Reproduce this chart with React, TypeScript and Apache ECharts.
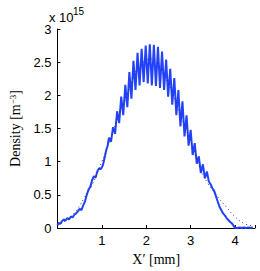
import React, { useEffect, useRef } from "react";
import * as echarts from "echarts";

// Measured density (blue), units of 1e15 m^-3
const measuredX = [
  0.0, 0.03, 0.06, 0.1, 0.14, 0.18, 0.22, 0.26, 0.3, 0.34, 0.38, 0.42, 0.46, 0.5, 0.54, 0.58, 0.62, 0.66, 0.7, 0.74,
  0.78, 0.82, 0.86, 0.9, 0.94, 0.98, 1.02, 1.06, 1.1, 1.13,
  1.16, 1.206, 1.252, 1.298, 1.344, 1.39, 1.436, 1.482, 1.528, 1.574, 1.62, 1.666, 1.712, 1.758, 1.804, 1.85,
  1.896, 1.942, 1.988, 2.034, 2.08, 2.126, 2.172, 2.218, 2.264, 2.31, 2.356, 2.402, 2.448, 2.494, 2.54, 2.586,
  2.632, 2.678, 2.724, 2.77, 2.816, 2.862, 2.908, 2.954, 3.0, 3.046, 3.092, 3.138, 3.184, 3.23, 3.276, 3.322, 3.368,
  3.41, 3.45, 3.49, 3.53, 3.57, 3.61, 3.65, 3.69, 3.73, 3.77, 3.81, 3.85, 3.89, 3.93, 3.97, 4.01, 4.05, 4.1, 4.15,
  4.2, 4.25, 4.3, 4.35, 4.4,
];
const measuredY = [
  0.04, 0.08, 0.06, 0.1, 0.13, 0.11, 0.15, 0.13, 0.17, 0.16, 0.2, 0.22, 0.25, 0.29, 0.27, 0.34, 0.4, 0.5, 0.58, 0.62,
  0.72, 0.78, 0.76, 0.86, 0.9, 0.89, 0.94, 1.05, 1.18, 1.24,
  1.36, 1.3, 1.52, 1.42, 1.76, 1.58, 1.98, 1.7, 2.16, 1.82, 2.35, 1.95, 2.52, 2.08, 2.64, 2.15,
  2.7, 2.2, 2.75, 2.18, 2.77, 2.15, 2.76, 2.14, 2.73, 2.11, 2.66, 2.08, 2.54, 1.98, 2.4, 1.86,
  2.26, 1.7, 2.08, 1.53, 1.91, 1.38, 1.7, 1.24, 1.48, 1.1, 1.28, 0.97, 1.08, 0.83, 0.96, 0.75, 0.85,
  0.7, 0.66, 0.6, 0.56, 0.48, 0.4, 0.32, 0.27, 0.22, 0.19, 0.15, 0.12, 0.09, 0.07, 0.03, 0.0, 0.0, 0.01, 0.0,
  0.01, 0.0, 0.01, 0.0, 0.01,
];

// Fitted profile (dotted)
const fitX = [0.0, 0.2, 0.4, 0.6, 0.8, 1.0, 1.2, 1.4, 1.6, 1.8, 2.0, 2.1, 2.2, 2.4, 2.6, 2.8, 3.0, 3.2, 3.4, 3.6, 3.8, 4.0, 4.2, 4.4];
const fitY = [0.04, 0.12, 0.24, 0.45, 0.68, 1.0, 1.36, 1.75, 2.08, 2.4, 2.53, 2.55, 2.52, 2.32, 2.02, 1.66, 1.32, 0.92, 0.66, 0.48, 0.32, 0.17, 0.07, 0.03];

const yTicks = [0, 0.5, 1, 1.5, 2, 2.5, 3];
const xTicks = [1, 2, 3, 4];

export default function App() {
  const ref = useRef<HTMLDivElement>(null);
  useEffect(() => {
    if (!ref.current) return;
    const chart = echarts.init(ref.current, null, { renderer: "svg" });
    const sans = "Liberation Sans";
    const serif = "Liberation Serif";
    chart.setOption({
      animation: false,
      backgroundColor: "#ffffff",
      grid: { left: 49, right: 5, top: 29, bottom: 42 },
      xAxis: {
        type: "value",
        min: 0,
        max: 4.45,
        interval: 1,
        axisLine: { lineStyle: { color: "#000", width: 1 } },
        axisTick: { inside: true, length: 3, lineStyle: { color: "#000" } },
        splitLine: { show: false },
        axisLabel: {
          color: "#000",
          fontFamily: sans,
          fontSize: 13,
          margin: 6,
          formatter: (v: number) => (xTicks.includes(v) ? String(v) : ""),
        },
        name: "{a|X′ [mm]}",
        nameLocation: "middle",
        nameGap: 24,
        nameTextStyle: { rich: { a: { fontFamily: serif, fontSize: 14, color: "#000" } } },
      },
      yAxis: {
        type: "value",
        min: 0,
        max: 3,
        interval: 0.5,
        axisLine: { show: true, lineStyle: { color: "#000", width: 1 } },
        axisTick: { show: true, inside: true, length: 3, lineStyle: { color: "#000" } },
        splitLine: { show: false },
        axisLabel: {
          color: "#000",
          fontFamily: sans,
          fontSize: 13,
          margin: 6,
          formatter: (v: number) => (yTicks.includes(v) ? String(v) : ""),
        },
        name: "{a|Density [m}{b|−3}{a|]}",
        nameLocation: "middle",
        nameRotate: 90,
        nameGap: 31,
        nameTextStyle: {
          rich: {
            a: { fontFamily: serif, fontSize: 14, color: "#000" },
            b: { fontFamily: serif, fontSize: 9, color: "#000", verticalAlign: "top", padding: [0, 0, 6, 0] },
          },
        },
      },
      graphic: [
        { type: "text", left: 49, top: 11, style: { text: "x 10", font: "13px Liberation Sans", fill: "#000" } },
        { type: "text", left: 73, top: 6, style: { text: "15", font: "10px Liberation Sans", fill: "#000" } },
      ],
      series: [
        {
          type: "line",
          data: fitX.map((x, i) => [x, fitY[i]]),
          showSymbol: false,
          smooth: true,
          lineStyle: { color: "#333", width: 1, type: [1, 3] },
          z: 3,
        },
        {
          type: "line",
          data: measuredX.map((x, i) => [x, measuredY[i]]),
          showSymbol: false,
          lineStyle: { color: "#2242ff", width: 2 },
          z: 2,
        },
      ],
    });
    return () => chart.dispose();
  }, []);
  return <div ref={ref} style={{ position: "fixed", left: 0, top: 0, width: 260, height: 271 }} />;
}
